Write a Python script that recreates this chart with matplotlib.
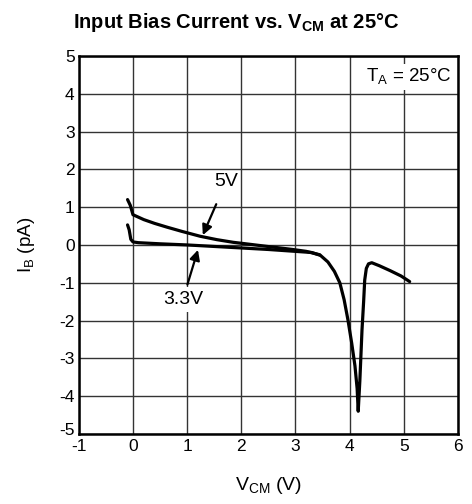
import matplotlib
matplotlib.use("Agg")
from matplotlib import pyplot as plt
from matplotlib.transforms import ScaledTranslation

plt.rcParams['font.family'] = ['Liberation Sans', 'DejaVu Sans']
plt.rcParams['axes.unicode_minus'] = False

# 5V curve (continues through the dip)
v5_x = [-0.1, -0.05, 0.0, 0.2, 0.4, 0.63, 0.9, 1.24, 1.55, 1.85, 2.2, 2.6, 2.95, 3.2, 3.45,
        3.6, 3.72, 3.82, 3.9, 3.97, 4.04, 4.10, 4.14, 4.16, 4.19, 4.23, 4.26, 4.28, 4.31,
        4.35, 4.41, 4.55, 4.75, 4.95, 5.11]
v5_y = [1.2, 1.05, 0.8, 0.67, 0.57, 0.47, 0.36, 0.23, 0.14, 0.07, 0.01, -0.06, -0.12, -0.17, -0.26,
        -0.45, -0.7, -1.0, -1.45, -1.98, -2.6, -3.2, -3.8, -4.4, -3.6, -2.25, -1.5, -0.93, -0.62,
        -0.5, -0.47, -0.55, -0.68, -0.82, -0.97]

# 3.3V curve
v33_x = [-0.1, -0.07, -0.04, 0.0, 0.1, 0.5, 1.0, 1.5, 2.0, 2.5, 3.0, 3.3, 3.45]
v33_y = [0.53, 0.4, 0.15, 0.08, 0.06, 0.03, 0.0, -0.04, -0.08, -0.12, -0.17, -0.2, -0.27]

x_ticks = [-1, 0, 1, 2, 3, 4, 5, 6]
y_ticks = [-5, -4, -3, -2, -1, 0, 1, 2, 3, 4, 5]

fig = plt.figure(figsize=(4.72, 5.04), dpi=100)
ax = fig.add_axes([0.167, 0.139, 0.803, 0.750])

ax.plot(v33_x, v33_y, color='black', lw=2.3, solid_capstyle='round')
ax.plot(v5_x, v5_y, color='black', lw=2.3, solid_capstyle='round')

ax.set_xlim(-1, 6)
ax.set_ylim(-5, 5)
ax.set_xticks(x_ticks)
ax.set_yticks(y_ticks)
ax.grid(True, color='#333333', lw=1.0)
ax.set_axisbelow(True)
for s in ax.spines.values():
    s.set_linewidth(1.8)
ax.tick_params(length=0, labelsize=12.5)
ax.tick_params(axis='x', pad=4)
ax.tick_params(axis='y', pad=3)

# lift the bottom y label so it clears the "-1" below it
lbl = ax.get_yticklabels()[0]
lbl.set_transform(lbl.get_transform() + ScaledTranslation(0, 5 / 100, fig.dpi_scale_trans))

ax.set_xlabel('V$_{\\mathregular{CM}}$ (V)', fontsize=14, labelpad=15)
ax.set_ylabel('I$_{\\mathregular{B}}$ (pA)', fontsize=13.5, labelpad=16)
fig.text(0.5, 0.955, 'Input Bias Current vs. V$_{\\mathregular{CM}}$ at 25°C',
         ha='center', va='center', fontsize=14.5, fontweight='bold')

ax.text(5.1, 4.45, 'T$_{\\mathregular{A}}$ = 25°C', ha='center', va='center', fontsize=13.5,
        bbox=dict(facecolor='white', edgecolor='none', pad=2))

ax.annotate('5V', xy=(1.29, 0.26), xytext=(1.72, 1.68), ha='center', va='center', fontsize=14,
            arrowprops=dict(arrowstyle='-|>', color='black', lw=1.6, mutation_scale=15,
                            shrinkA=9, shrinkB=0))
ax.annotate('3.3V', xy=(1.2, -0.13), xytext=(0.92, -1.45), ha='center', va='center', fontsize=14,
            bbox=dict(facecolor='white', edgecolor='none', pad=3),
            arrowprops=dict(arrowstyle='-|>', color='black', lw=1.6, mutation_scale=15,
                            shrinkA=2, shrinkB=0))

fig.savefig('out.png', dpi=100)
